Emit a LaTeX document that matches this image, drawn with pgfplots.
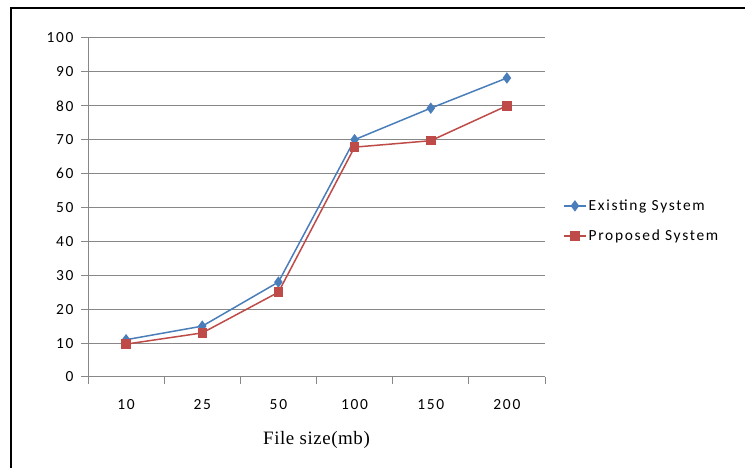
\documentclass[border=0pt]{standalone}
\usepackage{pgfplots}
\pgfplotsset{compat=1.18}
\usepackage{fontspec}
\setmainfont{Liberation Serif}[LetterSpace=3]
\newfontfamily\calib{Carlito}[LetterSpace=11]
\definecolor{exblue}{HTML}{4A7EBB}
\definecolor{prred}{HTML}{BE4B48}
\definecolor{gridgray}{HTML}{878787}
\begin{document}
\begin{tikzpicture}[x=1bp,y=1bp]
\useasboundingbox (0,0) rectangle (745,468);
\draw[black,line width=2bp] (11,0) -- (11,460) -- (745,460);
\begin{axis}[
  at={(88bp,91bp)}, anchor=south west,
  scale only axis, width=457bp, height=339bp,
  xmin=-0.5, xmax=5.5, ymin=0, ymax=100,
  axis x line=bottom, axis y line=left,
  axis line style={gridgray, line width=1bp, -},
  xtick={0,1,2,3,4,5},
  xticklabels={10,25,50,100,150,200},
  minor xtick={-0.5,0.5,1.5,2.5,3.5,4.5,5.5},
  ytick={0,10,...,100},
  ymajorgrids,
  major grid style={gridgray, line width=1bp},
  tick align=outside,
  major tick length=7bp,
  minor tick length=7bp,
  xtick style={draw=none},
  minor x tick style={draw=gridgray, line width=1bp},
  y tick style={gridgray, line width=1bp},
  /pgf/number format/assume math mode=true,
  tick label style={font=\calib\fontsize{15.5}{17}\selectfont, text=black},
  xticklabel style={yshift=-12bp},
  yticklabel style={xshift=-4bp},
  xlabel={File size(mb)},
  xlabel style={font=\fontsize{19}{21}\selectfont, yshift=-15bp},
  legend style={draw=none, fill=none, at={(545bp-88bp+15bp,156bp)}, anchor=west,
    font=\calib\fontsize{15.5}{17}\selectfont, row sep=14bp,
    /tikz/every even column/.append style={column sep=2bp}},
  legend cell align=left,
  legend image code/.code={
    \draw[#1] (0bp,0bp) -- (22bp,0bp);
    \draw[#1, only marks] plot coordinates {(11bp,0bp)};
  },
  clip=false,
]
\addplot[exblue, line width=1.5bp, mark=diamond*, mark size=4.5bp, mark options={fill=exblue, draw=exblue}]
  coordinates {(0,11) (1,15) (2,28) (3,70) (4,79.3) (5,88.2)};
\addlegendentry{Existing System}
\addplot[prred, line width=1.5bp, mark=square*, mark size=4bp, mark options={fill=prred, draw=prred}]
  coordinates {(0,9.7) (1,13) (2,25) (3,67.8) (4,69.7) (5,80)};
\addlegendentry{Proposed System}
\end{axis}
\end{tikzpicture}
\end{document}
